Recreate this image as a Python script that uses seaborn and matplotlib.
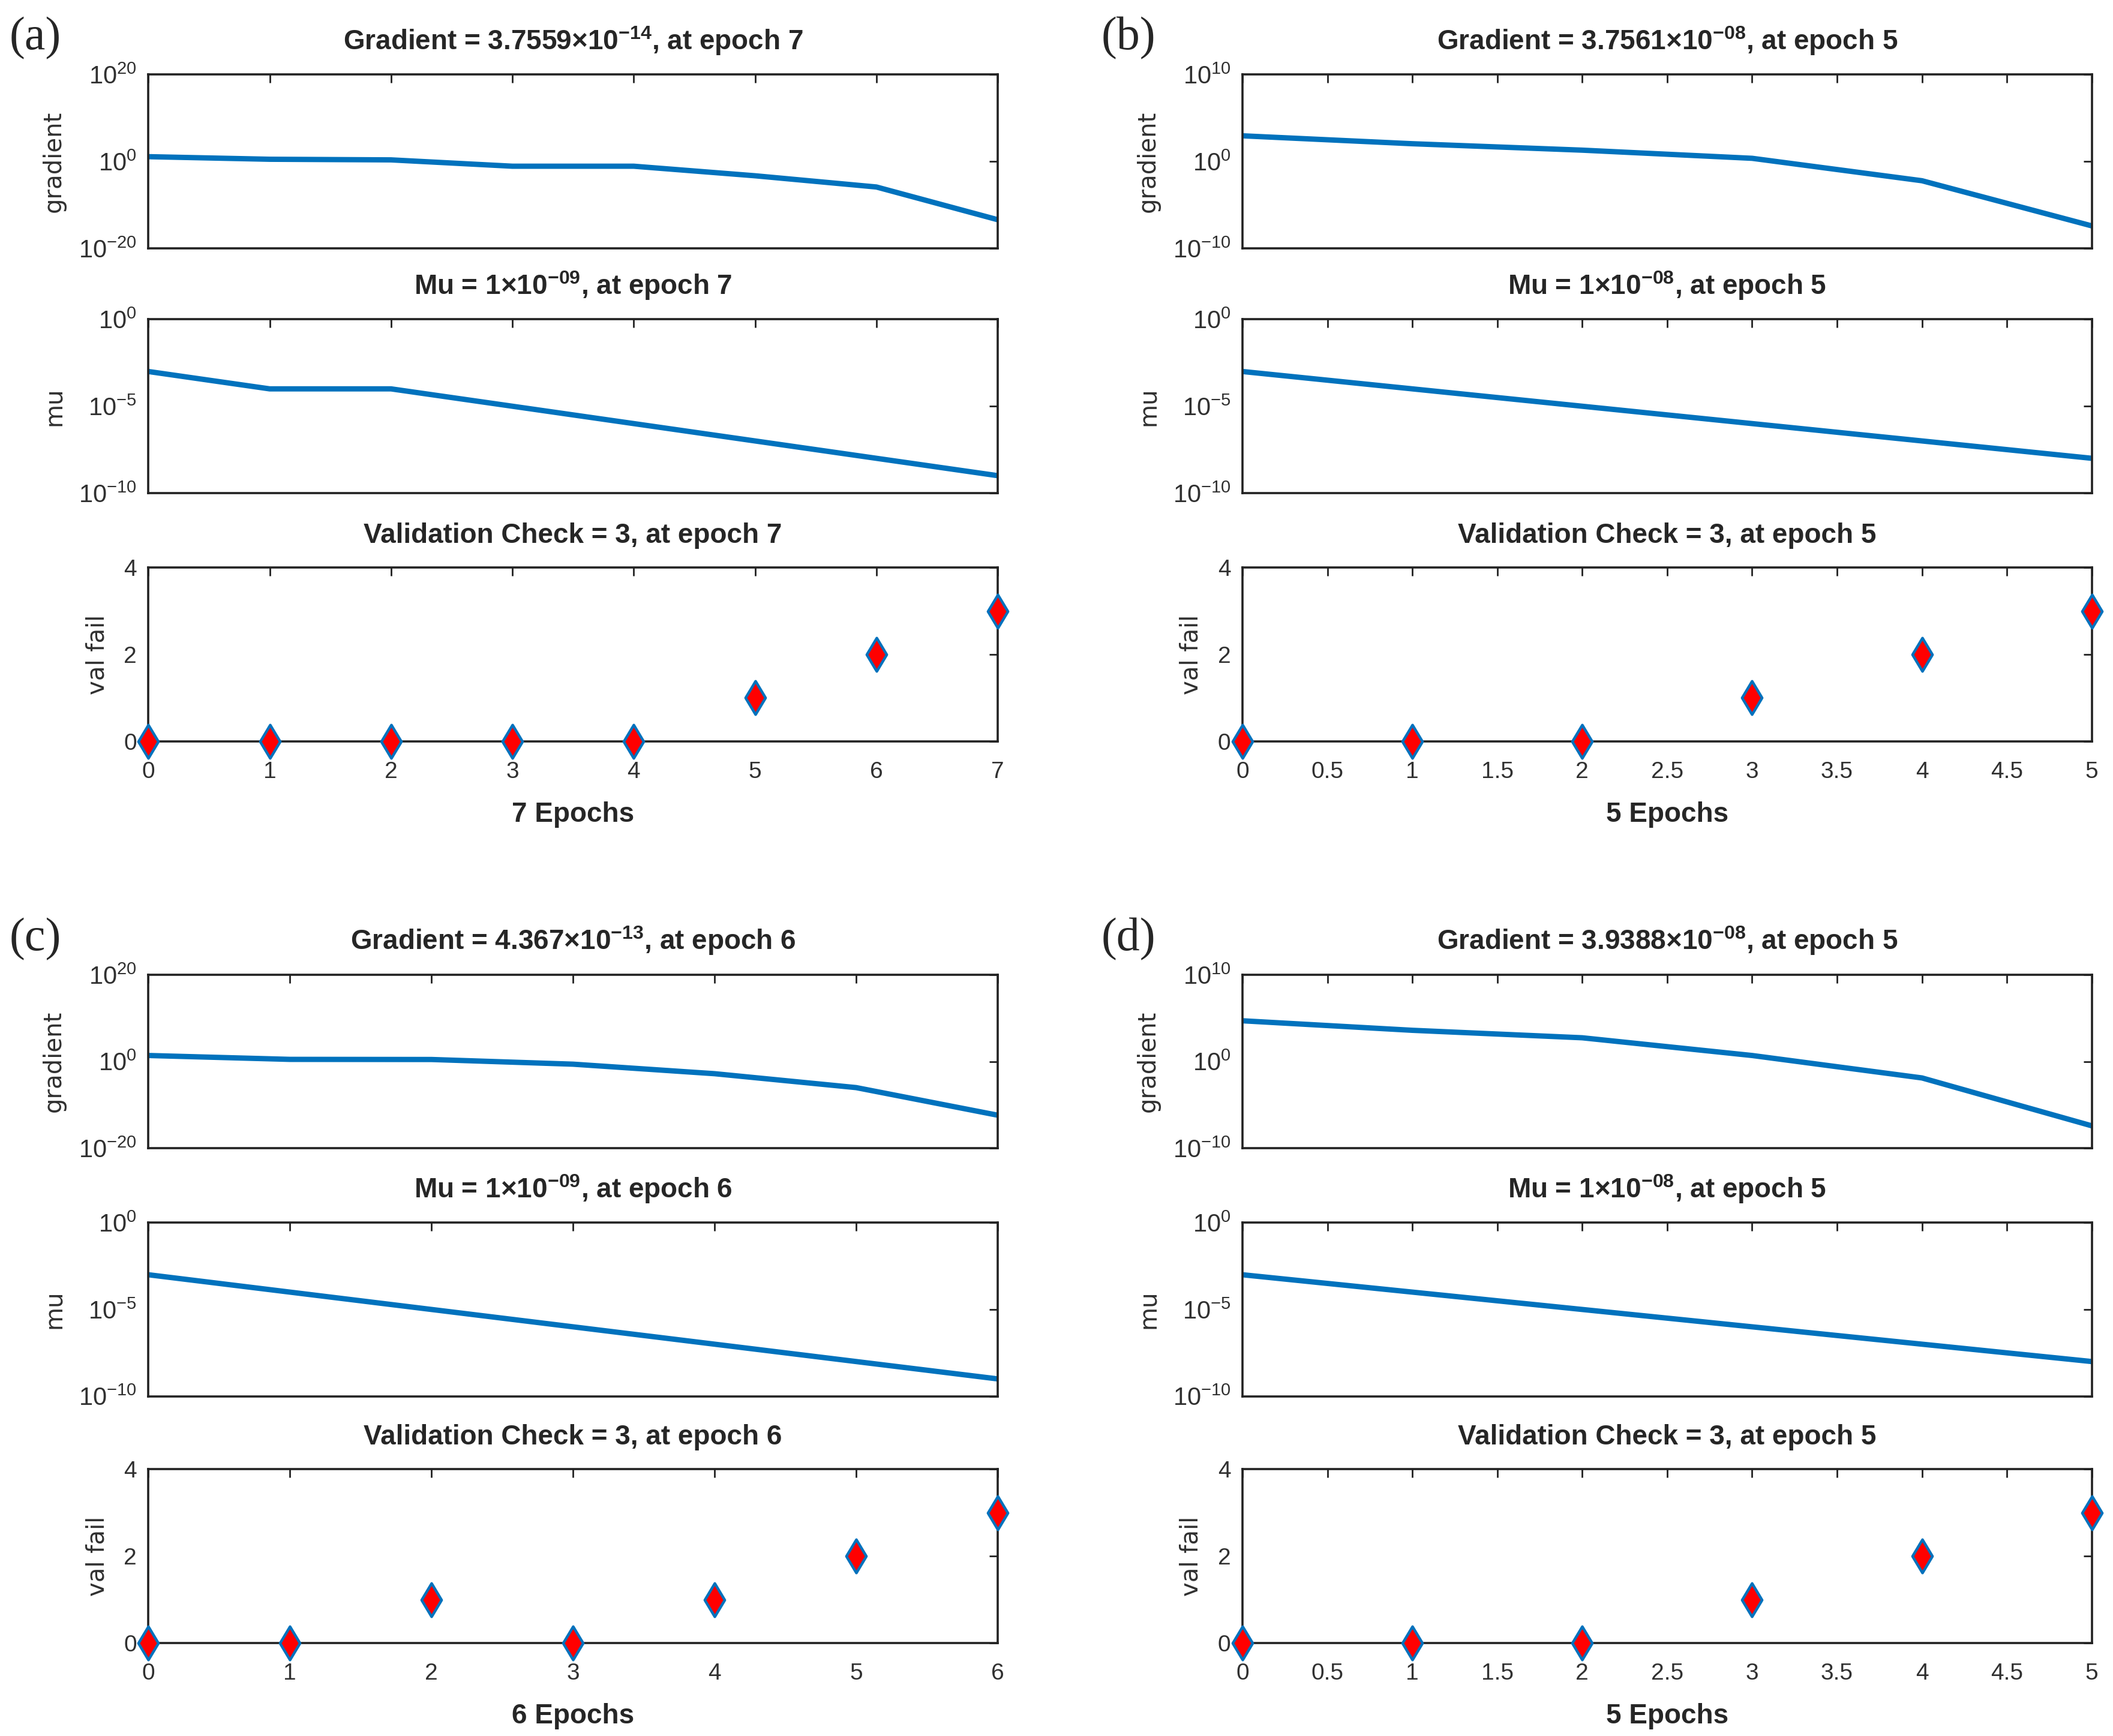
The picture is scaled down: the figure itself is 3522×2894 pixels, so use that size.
import numpy as np
import pandas as pd
import seaborn as sns
import matplotlib.pyplot as plt
from matplotlib.ticker import LogFormatterMathtext, NullLocator

sns.set_style("white")
plt.rcParams['font.family'] = ['Liberation Sans', 'DejaVu Sans']
plt.rcParams['mathtext.fontset'] = 'custom'
plt.rcParams['mathtext.rm'] = 'Liberation Sans'
plt.rcParams['mathtext.bf'] = 'Liberation Sans:bold'

# dati
epochs_a = [0, 1, 2, 3, 4, 5, 6, 7]
grad_a = [12.6, 3.2, 2.3, 0.08, 0.08, 5e-4, 1.3e-6, 3.7559e-14]
mu_a = [1e-3, 1e-4, 1e-4, 1e-5, 1e-6, 1e-7, 1e-8, 1e-9]
val_a = [0, 0, 0, 0, 0, 1, 2, 3]

epochs_b = [0, 1, 2, 3, 4, 5]
grad_b = [900, 110, 20, 2.3, 6e-3, 3.7561e-8]
mu_b = [1e-3, 1e-4, 1e-5, 1e-6, 1e-7, 1e-8]
val_b = [0, 0, 0, 1, 2, 3]

epochs_c = [0, 1, 2, 3, 4, 5, 6]
grad_c = [25, 3.2, 3.0, 0.25, 1.6e-3, 1e-6, 4.367e-13]
mu_c = [1e-3, 1e-4, 1e-5, 1e-6, 1e-7, 1e-8, 1e-9]
val_c = [0, 0, 1, 0, 1, 2, 3]

epochs_d = [0, 1, 2, 3, 4, 5]
grad_d = [5e4, 4e3, 550, 5, 1.3e-2, 3.9388e-8]
mu_d = [1e-3, 1e-4, 1e-5, 1e-6, 1e-7, 1e-8]
val_d = [0, 0, 0, 1, 2, 3]

titles_grad = [r'Gradient = 3.7559×10$^{\mathbf{-14}}$, at epoch 7',
               r'Gradient = 3.7561×10$^{\mathbf{-08}}$, at epoch 5',
               r'Gradient = 4.367×10$^{\mathbf{-13}}$, at epoch 6',
               r'Gradient = 3.9388×10$^{\mathbf{-08}}$, at epoch 5']
titles_mu = [r'Mu = 1×10$^{\mathbf{-09}}$, at epoch 7',
             r'Mu = 1×10$^{\mathbf{-08}}$, at epoch 5',
             r'Mu = 1×10$^{\mathbf{-09}}$, at epoch 6',
             r'Mu = 1×10$^{\mathbf{-08}}$, at epoch 5']
titles_val = ['Validation Check = 3, at epoch 7',
              'Validation Check = 3, at epoch 5',
              'Validation Check = 3, at epoch 6',
              'Validation Check = 3, at epoch 5']
panel_labels = ['(a)', '(b)', '(c)', '(d)']

BLUE = '#0072BD'
GREY = '#303030'

fig = plt.figure(figsize=(17.61, 14.47), dpi=200)


def style_ax(ax, nep, step):
    ax.set_xlim(0, nep)
    ax.set_xticks(np.arange(0, nep + step / 2, step))
    ax.tick_params(direction='in', top=True, right=True, length=5, width=1,
                   labelcolor=GREY, color='#222222')
    ax.tick_params(axis='x', pad=12, labelsize=14)
    ax.tick_params(axis='y', pad=7, labelsize=15)
    for s in ax.spines.values():
        s.set_color('#222222')
        s.set_linewidth(1.3)
    ax.set_xlabel('')


def panel(left, bottoms, epochs, grad, mu, val, glim, gticks, step, i):
    w, h = 0.402, 0.1
    ax_g = fig.add_axes([left, bottoms[0], w, h])
    ax_m = fig.add_axes([left, bottoms[1], w, h])
    ax_v = fig.add_axes([left, bottoms[2], w, h])
    df = pd.DataFrame({'epoch': epochs, 'gradient': grad, 'mu': mu, 'val': val})
    nep = epochs[-1]

    # gradient
    sns.lineplot(data=df, x='epoch', y='gradient', ax=ax_g, color=BLUE, linewidth=3.2)
    ax_g.set_yscale('log')
    ax_g.set_ylim(glim)
    ax_g.set_yticks(gticks)
    ax_g.yaxis.set_major_formatter(LogFormatterMathtext())
    ax_g.yaxis.set_minor_locator(NullLocator())
    style_ax(ax_g, nep, step)
    ax_g.set_xticklabels([])
    ax_g.set_title(titles_grad[i], fontsize=16.5, fontweight='bold', pad=15)

    # mu
    sns.lineplot(data=df, x='epoch', y='mu', ax=ax_m, color=BLUE, linewidth=3.2)
    ax_m.set_yscale('log')
    ax_m.set_ylim(1e-10, 1)
    ax_m.set_yticks([1e-10, 1e-5, 1])
    ax_m.yaxis.set_major_formatter(LogFormatterMathtext())
    ax_m.yaxis.set_minor_locator(NullLocator())
    style_ax(ax_m, nep, step)
    ax_m.set_xticklabels([])
    ax_m.set_title(titles_mu[i], fontsize=16.5, fontweight='bold', pad=15)

    # val fail
    sns.scatterplot(data=df, x='epoch', y='val', ax=ax_v, marker='d', s=200,
                    color='red', edgecolor=BLUE, linewidth=1.6, clip_on=False, zorder=5)
    ax_v.set_ylim(0, 4)
    ax_v.set_yticks([0, 2, 4])
    style_ax(ax_v, nep, step)
    ax_v.tick_params(axis='y', labelsize=14)
    if step == 0.5:
        ax_v.set_xticklabels([('%g' % t) for t in ax_v.get_xticks()])
    ax_v.set_title(titles_val[i], fontsize=16.5, fontweight='bold', pad=15)
    ax_v.set_xlabel('%d Epochs' % nep, fontsize=16.5, fontweight='bold', labelpad=11)

    for ax, lab, xc in [(ax_g, 'gradient', -0.097), (ax_m, 'mu', -0.097), (ax_v, 'val fail', -0.046)]:
        ax.set_ylabel(lab, family='DejaVu Sans', fontsize=14.5, color=GREY)
        ax.yaxis.set_label_coords(xc, 0.5)


top_b = [0.857, 0.716, 0.573]
bot_b = [0.3385, 0.1957, 0.0536]

panel(0.0702, top_b, epochs_a, grad_a, mu_a, val_a, (1e-20, 1e20), [1e-20, 1, 1e20], 1, 0)
panel(0.588, top_b, epochs_b, grad_b, mu_b, val_b, (1e-10, 1e10), [1e-10, 1, 1e10], 0.5, 1)
panel(0.0702, bot_b, epochs_c, grad_c, mu_c, val_c, (1e-20, 1e20), [1e-20, 1, 1e20], 1, 2)
panel(0.588, bot_b, epochs_d, grad_d, mu_d, val_d, (1e-10, 1e10), [1e-10, 1, 1e10], 0.5, 3)

for lab, x, y in zip(panel_labels, [0.0166, 0.534, 0.0166, 0.534], [0.978, 0.978, 0.459, 0.459]):
    fig.text(x, y, lab, family='Liberation Serif', fontsize=28, ha='center', va='center')

fig.savefig('out.png', dpi=200, facecolor='white')
